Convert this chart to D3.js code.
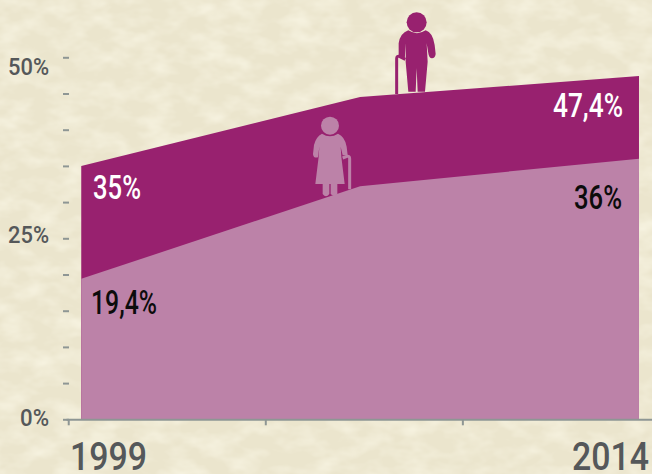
<!DOCTYPE html>
<html>
<head>
<meta charset="utf-8">
<script src="https://cdn.jsdelivr.net/npm/d3@7"></script>
<style>
  html, body { margin: 0; padding: 0; background: #ece6cf; }
  svg { display: block; }
  text { font-family: Roboto, sans-serif; }
</style>
</head>
<body>
<div id="chart"></div>
<script>
// values
const years = [1999, 2006.5, 2014];
const share65 = [35, 44.5, 47.4];   // dark band, top edge
const share80 = [19.4, 32.2, 36];   // light band, top edge
const yTicks = [0, 5, 10, 15, 20, 25, 30, 35, 40, 45, 50];
const yLabelled = [0, 25, 50];
const xTicks = [1998.65, 2003.95, 2009.25];
const xLabels = ["1999", "2014"];
const bandLabels = ["35%", "19,4%", "47,4%", "36%"];

const width = 652, height = 474;
const darkBand = "#98216f", lightBand = "#bc82a8";

const svg = d3.select("#chart")
    .append("svg")
    .attr("width", width)
    .attr("height", height);

// paper texture
const defs = svg.append("defs");
const paper = defs.append("filter").attr("id", "paper")
    .attr("x", 0).attr("y", 0).attr("width", "100%").attr("height", "100%");
paper.append("feTurbulence")
    .attr("type", "fractalNoise")
    .attr("baseFrequency", "0.035 0.06")
    .attr("numOctaves", 3)
    .attr("seed", 7);
paper.append("feColorMatrix")
    .attr("type", "matrix")
    .attr("values", "0 0 0 0 1  0 0 0 0 0.98  0 0 0 0 0.86  1.1 0 0 0 -0.42");

svg.append("rect")
    .attr("width", width).attr("height", height)
    .attr("fill", "#ebe5cd");
svg.append("rect")
    .attr("width", width).attr("height", height)
    .attr("filter", "url(#paper)");

const x = d3.scaleLinear().domain([1998.59, 2014.35]).range([66, 652]);
const y = d3.scaleLinear().domain([0, 50]).range([419.3, 57.3]);

const area = d3.area()
    .x((d, i) => x(years[i]))
    .y0(y(0))
    .y1(d => y(d));

svg.append("path")
    .datum(share65)
    .attr("d", area)
    .attr("fill", darkBand);

svg.append("path")
    .datum(share80)
    .attr("d", area)
    .attr("fill", lightBand);

// axes
const xAxis = svg.append("g")
    .attr("transform", `translate(0,${y(0)})`)
    .call(d3.axisBottom(x).tickValues(xTicks).tickSize(6).tickSizeOuter(0).tickFormat(""));
xAxis.selectAll("path, line").attr("stroke", "#8e9694").attr("stroke-width", 2);

const yAxis = svg.append("g")
    .attr("transform", "translate(69,0)")
    .call(d3.axisLeft(y).tickValues(yTicks).tickSize(6).tickPadding(14)
        .tickFormat(d => yLabelled.includes(d) ? d + "%" : ""));
yAxis.select(".domain").remove();
yAxis.selectAll("line").attr("stroke", "#8e9694").attr("stroke-width", 2);

// the printed labels do not sit exactly on their ticks
const yLabelShift = { 0: -2, 25: -4, 50: 9 };
yAxis.selectAll("text")
    .attr("fill", "#55585a")
    .attr("font-size", 24)
    .attr("font-family", "Roboto, sans-serif")
    .attr("font-weight", 500)
    .attr("dy", d => yLabelShift[d] + 8.5)
    .attr("textLength", d => yLabelled.includes(d) ? (d === 0 ? 29 : 41) : null)
    .attr("lengthAdjust", "spacingAndGlyphs");

svg.selectAll(".year")
    .data(xLabels)
    .join("text")
    .attr("class", "year")
    .attr("x", (d, i) => i === 0 ? 70 : 572)
    .attr("y", 470)
    .attr("font-size", 39)
    .attr("font-weight", 500)
    .attr("fill", "#55585a")
    .attr("textLength", 77)
    .attr("lengthAdjust", "spacingAndGlyphs")
    .text(d => d);

// values on the bands
const bandPos = [
    { x: 93, y: 199, w: 48, fill: "#fff" },
    { x: 91, y: 314, w: 66, fill: "#0c0c0c" },
    { x: 553, y: 117, w: 70, fill: "#fff" },
    { x: 574, y: 209, w: 48, fill: "#0c0c0c" }
];
svg.selectAll(".band-label")
    .data(bandLabels)
    .join("text")
    .attr("class", "band-label")
    .attr("x", (d, i) => bandPos[i].x)
    .attr("y", (d, i) => bandPos[i].y)
    .attr("font-size", 33)
    .attr("font-weight", 500)
    .attr("fill", (d, i) => bandPos[i].fill)
    .attr("textLength", (d, i) => bandPos[i].w)
    .attr("lengthAdjust", "spacingAndGlyphs")
    .text(d => d);

// figures, drawn at 3x and scaled down
const man = svg.append("g")
    .attr("transform", "translate(300,0) scale(0.3333)")
    .attr("fill", darkBand);
man.append("circle").attr("cx", 350).attr("cy", 67).attr("r", 30);
man.append("path").attr("d",
    "M325,91 Q351,108 377,91 Q398,97 404,135 L407,162 Q405,175 396,175 Q387,175 385,160 L380,130 L383,185 L375,275 L353,275 L350,205 L347,275 L325,275 L317,185 L318,130 L314,180 L296,168 L296,130 Q300,100 325,91 Z");
man.append("path")
    .attr("d", "M290,282 L290,176 Q290,168 298,169 L316,178")
    .attr("fill", "none")
    .attr("stroke", darkBand)
    .attr("stroke-width", 9);

const woman = svg.append("g")
    .attr("transform", "translate(300,0) scale(0.3333)")
    .attr("fill", lightBand);
woman.append("circle").attr("cx", 90).attr("cy", 377).attr("r", 27);
woman.append("path").attr("d",
    "M66,401 Q90,416 114,401 Q135,410 140,440 L143,466 L128,466 L122,440 L124,470 L134,552 L112,552 L112,582 Q102,592 92,582 L92,552 L88,552 L88,582 Q78,596 68,582 L68,552 L46,552 L56,470 L58,440 L54,472 Q40,476 39,462 L42,435 Q48,410 66,401 Z");
woman.append("path")
    .attr("d", "M149,568 L149,476 Q149,468 141,469 L128,474")
    .attr("fill", "none")
    .attr("stroke", lightBand)
    .attr("stroke-width", 9);
</script>
</body>
</html>
